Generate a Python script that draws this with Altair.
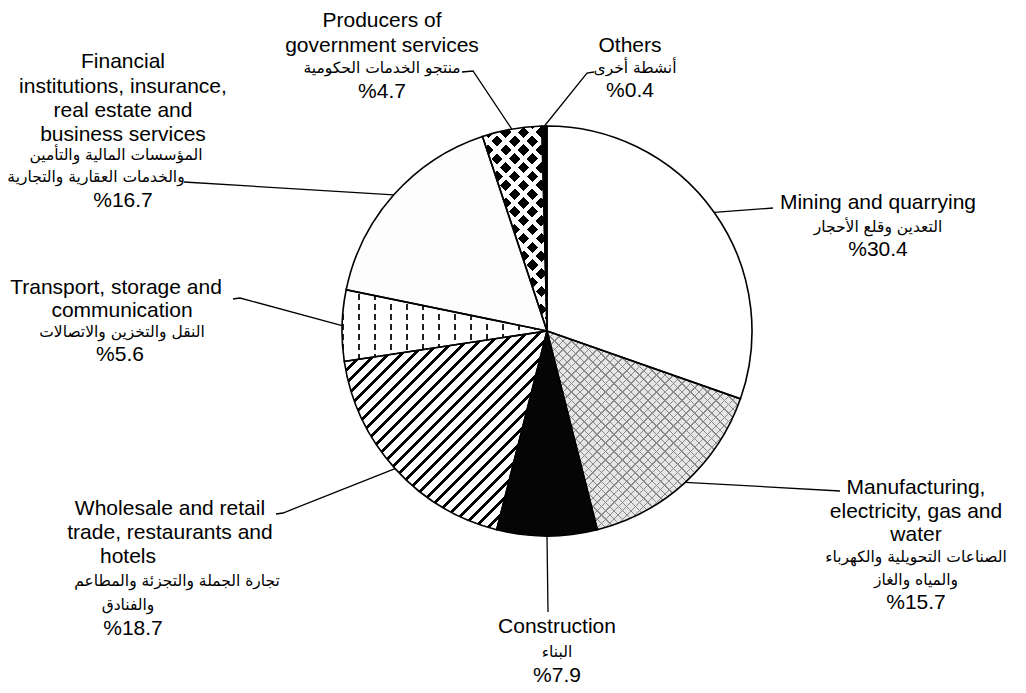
import math
import altair as alt
import pandas as pd

# ---------------- data ----------------
keys = ["mining", "manufacturing", "construction", "wholesale",
        "transport", "financial", "producers", "others"]
shares = [30.4, 15.7, 7.9, 18.7, 5.6, 16.7, 4.7, 0.4]

english_lines = {
    "mining": ["Mining and quarrying"],
    "manufacturing": ["Manufacturing,", "electricity, gas and", "water"],
    "construction": ["Construction"],
    "wholesale": ["Wholesale and retail", "trade, restaurants and", "hotels"],
    "transport": ["Transport, storage and", "communication"],
    "financial": ["Financial", "institutions, insurance,", "real estate and",
                  "business services"],
    "producers": ["Producers of", "government services"],
    "others": ["Others"],
}
arabic_lines = {
    "mining": ["التعدين وقلع الأحجار"],
    "manufacturing": ["الصناعات التحويلية والكهرباء", "والمياه والغاز"],
    "construction": ["البناء"],
    "wholesale": ["تجارة الجملة والتجزئة والمطاعم", "والفنادق"],
    "transport": ["النقل والتخزين والاتصالات"],
    "financial": ["المؤسسات المالية والتأمين", "والخدمات العقارية والتجارية"],
    "producers": ["منتجو الخدمات الحكومية"],
    "others": ["أنشطة أخرى"],
}

# ---------------- layout (page coordinates) ----------------
M = 8
W, H = 1010, 677
CX, CY, R = 547 - M, 331 - M, 205

label_x = {
    "mining": [878] * 3,
    "manufacturing": [916] * 6,
    "construction": [557] * 3,
    "wholesale": [170, 170, 128, 177, 128, 133],
    "transport": [116, 122, 122, 120],
    "financial": [123, 123, 123, 123, 116, 96, 123],
    "producers": [382] * 4,
    "others": [630, 635, 630],
}
label_y = {
    "mining": [203, 227, 250],
    "manufacturing": [488, 512, 535, 557, 580, 603],
    "construction": [627, 652, 676],
    "wholesale": [509, 533, 557, 581, 605, 629],
    "transport": [288, 311, 332, 355],
    "financial": [62, 87, 111, 135, 155, 177, 201],
    "producers": [21, 46, 68, 92],
    "others": [46, 68, 91],
}
leader_pts = {
    "mining": [(773, 208)],
    "manufacturing": [(840, 491)],
    "construction": [(548, 612)],
    "wholesale": [(283, 513), (276, 514)],
    "transport": [(240, 298), (233, 299)],
    "financial": [(184, 182)],
    "producers": [(473, 71), (462, 72)],
    "others": [(587, 73), (594, 72)],
}

total = sum(shares)
starts, ends = [], []
c = 0.0
for v in shares:
    starts.append(c)
    c += v
    ends.append(c)

pie_df = pd.DataFrame({"key": keys, "share": shares, "start": starts, "end": ends})

def ang(v):
    return v / total * 2 * math.pi

def wedge_bbox(k):
    i = keys.index(k)
    a0, a1 = ang(starts[i]), ang(ends[i])
    pts = [(CX, CY)]
    for a in (a0, a1):
        pts.append((CX + R * math.sin(a), CY - R * math.cos(a)))
    for q in range(5):
        a = q * math.pi / 2
        if a0 < a < a1:
            pts.append((CX + R * math.sin(a), CY - R * math.cos(a)))
    xs = [p[0] for p in pts]
    ys = [p[1] for p in pts]
    return max(xs) - min(xs), max(ys) - min(ys)

def stripes(k, deg, period, width, on, off="rgba(255,255,255,0)"):
    w, h = wedge_bbox(k)
    nx, ny = math.cos(math.radians(deg)), math.sin(math.radians(deg))
    if abs(nx) < 1e-9:
        nx = 0.0
    if abs(ny) < 1e-9:
        ny = 0.0
    L = w * abs(nx) + h * abs(ny)
    px1 = 0 if nx >= 0 else 1
    py1 = 0 if ny >= 0 else 1
    s = L / (nx * nx * w / h + ny * ny * h / w)
    x2 = px1 + nx / h * s
    y2 = py1 + ny / w * s
    stops = []
    kk = 0
    while kk * period < L:
        t0 = kk * period / L
        t1 = min((kk * period + width) / L, 1.0)
        stops += [{"offset": t0, "color": off}, {"offset": t0, "color": on},
                  {"offset": t1, "color": on}, {"offset": t1, "color": off}]
        kk += 1
    return {"gradient": "linear", "x1": px1, "y1": py1, "x2": x2, "y2": y2,
            "stops": stops}

base_colors = ["#ffffff", "#e6e6e6", "#050505", "#ffffff",
               "#ffffff", "#fdfdfd", "#000000", "#000000"]

overlays = [
    ("manufacturing", stripes("manufacturing", 45, 6, 1.0, "#8a8a8a")),
    ("manufacturing", stripes("manufacturing", 135, 6, 1.0, "#8a8a8a")),
    ("wholesale", stripes("wholesale", 45, 9.2, 2.7, "#000000")),
    ("transport", stripes("transport", 0, 16, 2.4, "#222222")),
    ("transport", stripes("transport", 90, 10, 4.0, "#ffffff")),
    ("producers", stripes("producers", 45, 12.5, 4.5, "#ffffff")),
    ("producers", stripes("producers", 135, 12.5, 4.5, "#ffffff")),
]

theta_scale = alt.Scale(domain=[0, total], range=[0, 2 * math.pi])

def arc_enc(ch):
    return ch.encode(
        theta=alt.Theta("start:Q", scale=theta_scale, stack=None),
        theta2=alt.Theta2("end:Q"),
        x=alt.value(CX), y=alt.value(CY),
    )

base = arc_enc(alt.Chart(pie_df).mark_arc(radius=R, strokeWidth=0)).encode(
    fill=alt.Fill("key:N", scale=alt.Scale(domain=keys, range=base_colors), legend=None)
)

layers = [base]
for k, grad in overlays:
    layers.append(arc_enc(
        alt.Chart(pie_df).transform_filter(alt.datum.key == k)
        .mark_arc(radius=R, fill=grad, strokeWidth=0)
    ))

outline = arc_enc(alt.Chart(pie_df).mark_arc(
    radius=R, fillOpacity=0, stroke="black", strokeWidth=1.6))
layers.append(outline)

# leader lines
lrows = []
for i, k in enumerate(keys):
    mid = ang((starts[i] + ends[i]) / 2)
    lrows.append({"key": k, "o": 0, "x": CX + R * math.sin(mid), "y": CY - R * math.cos(mid)})
    for j, (px, py) in enumerate(leader_pts[k]):
        lrows.append({"key": k, "o": j + 1, "x": px - M, "y": py - M})
leaders = alt.Chart(pd.DataFrame(lrows)).mark_line(color="black", strokeWidth=1.3).encode(
    x=alt.X("x:Q", scale=None, axis=None),
    y=alt.Y("y:Q", scale=None, axis=None),
    detail="key:N", order="o:Q",
)
layers.append(leaders)

# labels
en_rows, ar_rows = [], []
for i, k in enumerate(keys):
    lines = ([(t, "en") for t in english_lines[k]] + [(t, "ar") for t in arabic_lines[k]]
             + [("%" + str(shares[i]), "en")])
    for j, (t, lang) in enumerate(lines):
        row = {"text": t, "x": label_x[k][j] - M, "y": label_y[k][j] - M}
        (en_rows if lang == "en" else ar_rows).append(row)

en_text = alt.Chart(pd.DataFrame(en_rows)).mark_text(
    font="Liberation Sans", fontSize=21, color="black", align="center", baseline="middle"
).encode(x=alt.X("x:Q", scale=None, axis=None), y=alt.Y("y:Q", scale=None, axis=None), text="text:N")
ar_text = alt.Chart(pd.DataFrame(ar_rows)).mark_text(
    font="DejaVu Sans", fontSize=15.5, color="black", align="center", baseline="middle"
).encode(x=alt.X("x:Q", scale=None, axis=None), y=alt.Y("y:Q", scale=None, axis=None), text="text:N")
layers += [en_text, ar_text]

chart = alt.layer(*layers).properties(
    width=W, height=H, autosize="none", padding=0, background="white"
).configure_view(stroke=None)

chart.save("out.html", embed_options={"renderer": "svg", "actions": False})
